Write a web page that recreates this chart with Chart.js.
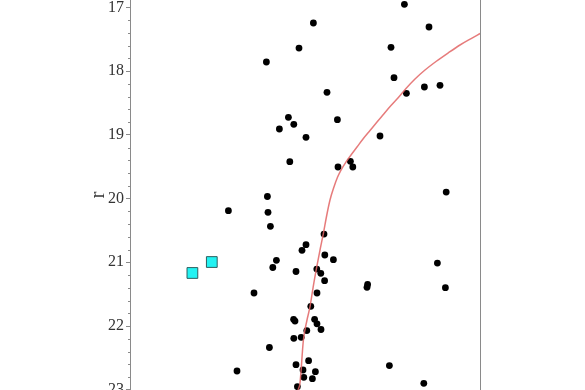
<!DOCTYPE html>
<html>
<head>
<meta charset="utf-8">
<script src="https://cdn.jsdelivr.net/npm/chart.js@4/dist/chart.umd.min.js"></script>
<style>
html,body{margin:0;padding:0;background:#fff;}
#wrap{width:585px;height:390px;position:relative;}
</style>
</head>
<body>
<div id="wrap"><canvas id="c" width="585" height="390"></canvas></div>
<script>
// Star colours (x) and r magnitudes (y)
const starColor = [0.517,0.445,0.282,0.905,0.920,0.585,0.392,0.419,0.347,0.637,0.480,0.850,0.399,0.640,0.702,0.714,0.287,0.972,1.095,0.982,1.072,1.150,1.181,0.092,0.290,0.302,0.570,0.480,0.460,0.574,0.617,0.332,0.314,0.430,0.534,0.554,0.573,0.788,0.785,0.220,0.535,0.504,0.418,0.425,0.523,0.535,0.555,0.484,0.419,0.456,0.297,0.493,0.430,0.897,0.135,0.465,0.527,0.469,0.512,0.437,1.137,1.177,1.069];
const starMag   = [17.246,17.639,17.858,17.628,18.104,18.334,18.726,18.836,18.909,18.763,19.040,19.019,19.422,19.505,19.416,19.505,19.968,16.953,17.309,18.349,18.250,18.224,19.898,20.191,20.216,20.436,20.557,20.724,20.812,20.886,20.960,20.969,21.082,21.145,21.106,21.173,21.289,21.349,21.393,21.482,21.482,21.691,21.895,21.922,21.895,21.966,22.055,22.071,22.193,22.177,22.337,22.544,22.607,22.620,22.706,22.690,22.717,22.805,22.827,22.952,21.012,21.399,22.899];
// Highlighted objects
const specColor = [-0.088, 0.009];
const specMag   = [21.168, 20.996];
// Isochrone track
const isoColor = [0.440,0.450,0.467,0.485,0.500,0.515,0.534,0.550,0.567,0.583,0.600,0.618,0.638,0.655,0.680,0.705,0.735,0.765,0.800,0.835,0.870,0.905,0.942,0.980,1.025,1.075,1.130,1.190,1.250,1.310,1.350];
const isoMag   = [23.004,22.894,22.220,21.906,21.697,21.404,21.070,20.808,20.546,20.274,20.023,19.835,19.662,19.553,19.427,19.317,19.192,19.066,18.933,18.800,18.669,18.542,18.415,18.274,18.125,17.984,17.850,17.717,17.591,17.482,17.411];
// Axis ticks
const majorTicks = [17,18,19,20,21,22,23];
const minorTicks = [];
for (let m = 17; m < 23; m++) { for (let k = 1; k < 5; k++) minorTicks.push(+(m + k*0.2).toFixed(1)); }
const yTitle = 'r';

const zip = (xs, ys) => xs.map((x, i) => ({x: x, y: ys[i]}));
const axisColor = '#8a8a8a';

const minorTickPlugin = {
  id: 'minorTicks',
  afterDraw(chart) {
    const s = chart.scales.y, ctx = chart.ctx, left = chart.chartArea.left;
    ctx.save();
    ctx.strokeStyle = axisColor;
    ctx.lineWidth = 1;
    minorTicks.forEach(v => {
      const p = Math.round(s.getPixelForValue(v)) + 0.5;
      ctx.beginPath(); ctx.moveTo(left - 2, p); ctx.lineTo(left, p); ctx.stroke();
    });
    ctx.restore();
  }
};

new Chart(document.getElementById('c'), {
  type: 'scatter',
  data: {
    datasets: [
      {
        type: 'line', data: zip(isoColor, isoMag), borderColor: 'rgba(226,100,100,0.85)', borderWidth: 1.5,
        pointRadius: 0, fill: false, cubicInterpolationMode: 'monotone', showLine: true
      },
      {
        data: zip(specColor, specMag), pointStyle: 'rect', pointRadius: 7.6,
        backgroundColor: '#22f2f2', borderColor: '#2d5f5f', borderWidth: 1
      },
      {
        data: zip(starColor, starMag), pointRadius: 3.4, backgroundColor: '#000', borderColor: '#000', borderWidth: 0
      }
    ]
  },
  options: {
    responsive: false,
    animation: false,
    events: [],
    layout: { autoPadding: false, padding: { left: 0, right: 105, top: 0, bottom: 0 } },
    plugins: { legend: { display: false }, tooltip: { enabled: false } },
    scales: {
      x: { type: 'linear', display: false, min: -0.4, max: 1.35 },
      y: {
        type: 'linear', position: 'left', reverse: true, min: 16.885, max: 23.004,
        afterBuildTicks(s) { s.ticks = majorTicks.map(v => ({value: v})); },
        afterFit(s) { s.width = 130; s.paddingTop = 0; s.paddingBottom = 0; },
        grid: { drawOnChartArea: false, drawTicks: true, tickLength: 4, color: axisColor, tickColor: axisColor },
        border: { display: true, color: axisColor, width: 1 },
        ticks: { color: '#333', padding: 2, font: { family: 'Liberation Serif', size: 16 }, callback: v => String(v) },
        title: { display: true, text: yTitle, color: '#333', font: { family: 'Liberation Serif', size: 21 }, padding: { top: 86, bottom: 0 } }
      },
      y2: {
        type: 'linear', position: 'right', display: true,
        afterFit(s) { s.width = 0; s.paddingTop = 0; s.paddingBottom = 0; },
        grid: { display: false, drawTicks: false },
        ticks: { display: false },
        border: { display: true, color: axisColor, width: 1 }
      }
    }
  },
  plugins: [minorTickPlugin]
});
</script>
</body>
</html>
